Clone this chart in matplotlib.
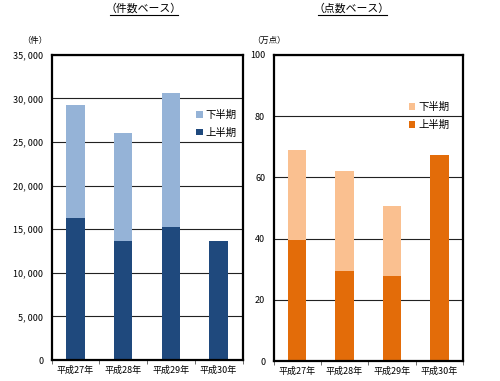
import numpy as np
import matplotlib
matplotlib.use('Agg')
import matplotlib.pyplot as plt
from matplotlib.lines import Line2D
from matplotlib.ticker import FuncFormatter

plt.rcParams['font.family'] = ['Noto Sans CJK JP', 'DejaVu Sans']

# Data
years = ['平成27年', '平成28年', '平成29年', '平成30年']
count_first = [16300, 13700, 15300, 13700]    # 上半期（件）
count_total = [29200, 26000, 30600, None]     # 上半期+下半期
point_first = [39.5, 29.4, 27.9, 67.3]        # 上半期（万点）
point_total = [69.0, 62.2, 50.7, None]

count_second = [t - f if t is not None else 0 for t, f in zip(count_total, count_first)]
point_second = [t - f if t is not None else 0 for t, f in zip(point_total, point_first)]

blue_dark = '#1F497D'
blue_light = '#95B3D7'
orange_dark = '#E36C09'
orange_light = '#FAC090'

fig = plt.figure(figsize=(5, 3.81), dpi=100)
ax1 = fig.add_axes([0.103, 0.055, 0.382, 0.801])
ax2 = fig.add_axes([0.547, 0.052, 0.379, 0.804])

x = np.arange(len(years))
w = 0.39


def style_axes(ax, ymax, step):
    ax.set_xlim(-0.5, 3.5)
    ax.set_ylim(0, ymax)
    ax.set_yticks(np.arange(0, ymax + step, step))
    ax.yaxis.grid(True, color='#222222', linewidth=0.8)
    ax.set_axisbelow(True)
    for s in ax.spines.values():
        s.set_linewidth(1.6)
        s.set_color('black')
    ax.set_xticks(x)
    ax.set_xticklabels(years, fontsize=6.5)
    ax.tick_params(axis='x', length=0, pad=4)
    ax.set_xticks(np.arange(-0.5, 4, 1), minor=True)
    ax.tick_params(axis='x', which='minor', length=3, direction='out', color='#555555')
    ax.tick_params(axis='y', length=0, labelsize=6.5, pad=6)


# Left chart (件数ベース)
ax1.bar(x, count_first, w, color=blue_dark, label='上半期')
ax1.bar(x, count_second, w, bottom=count_first, color=blue_light, label='下半期')
style_axes(ax1, 35000, 5000)
ax1.yaxis.set_major_formatter(FuncFormatter(lambda v, p: f'{int(v):,}'.replace(',', ', ')))
h, l = ax1.get_legend_handles_labels()
ax1.legend(h[::-1], l[::-1], frameon=False, fontsize=7.5, handlelength=0.6, handleheight=0.6,
           handletextpad=0.3, labelspacing=0.75, loc='center left',
           bbox_to_anchor=(0.71, 0.774))

# Right chart (点数ベース)
ax2.bar(x, point_first, w, color=orange_dark, label='上半期')
ax2.bar(x, point_second, w, bottom=point_first, color=orange_light, label='下半期')
style_axes(ax2, 100, 20)
h, l = ax2.get_legend_handles_labels()
ax2.legend(h[::-1], l[::-1], frameon=False, fontsize=7.5, handlelength=0.6, handleheight=0.6,
           handletextpad=0.3, labelspacing=0.75, loc='center left',
           bbox_to_anchor=(0.665, 0.80))

# Titles and units
fig.text(144 / 500, 1 - 8 / 381, '（件数ベース）', ha='center', va='center', fontsize=7.8)
fig.text(352 / 500, 1 - 8 / 381, '（点数ベース）', ha='center', va='center', fontsize=7.8)
fig.add_artist(Line2D([110 / 500, 178 / 500], [1 - 15 / 381] * 2, color='black', linewidth=0.8))
fig.add_artist(Line2D([318 / 500, 387 / 500], [1 - 15 / 381] * 2, color='black', linewidth=0.8))
fig.text(35 / 500, 1 - 40 / 381, '（件）', ha='center', va='center', fontsize=6)
fig.text(269 / 500, 1 - 40 / 381, '（万点）', ha='center', va='center', fontsize=6)

fig.savefig('out.png', dpi=100)
